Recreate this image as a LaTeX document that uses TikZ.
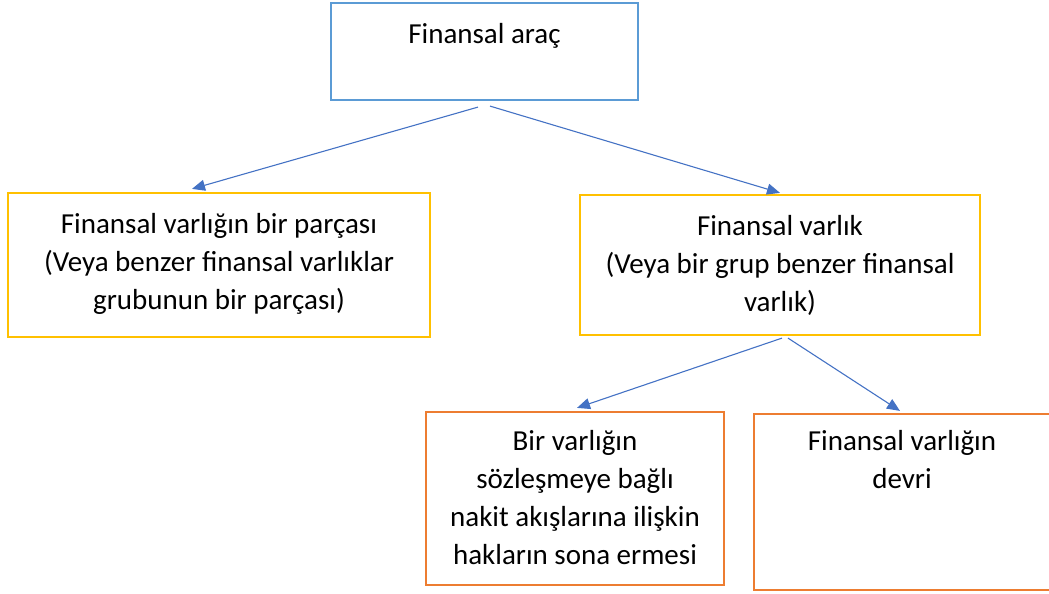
\documentclass[tikz,border=0pt]{standalone}
\usepackage{fontspec}
\setmainfont{Carlito}
\usetikzlibrary{arrows.meta,calc}
\definecolor{boxblue}{HTML}{5B9BD5}
\definecolor{boxyellow}{HTML}{FFC000}
\definecolor{boxorange}{HTML}{ED7D31}
\definecolor{linkblue}{HTML}{4472C4}
\begin{document}
\begin{tikzpicture}[x=1pt,y=-1pt,
  box/.style={draw,line width=2.2pt,inner sep=0pt,fill=none},
  txt/.style={anchor=north,align=center,inner sep=0pt,
    font=\fontsize{29}{38}\selectfont},
  link/.style={draw=linkblue,line width=1.1pt,
    -{Triangle[length=13pt,width=11pt]}}]
\useasboundingbox (0,0) rectangle (1049,594);

% frames
\node[box,draw=boxblue,minimum width=307pt,minimum height=97pt] (top) at (484.5,51.5) {};
\node[box,draw=boxyellow,minimum width=422pt,minimum height=144pt] (lv) at (219,265) {};
\node[box,draw=boxyellow,minimum width=400pt,minimum height=140pt] (rv) at (780,265) {};
\node[box,draw=boxorange,minimum width=298pt,minimum height=173pt] (o1) at (575,498.5) {};
\node[box,draw=boxorange,minimum width=304pt,minimum height=176pt] (o2) at (906,502) {};

% labels
\node[txt] (toptxt) at (484.5,23) {Finansal araç};
\node[txt] (lvtxt) at (219,213) {Finansal varlığın bir parçası\\(Veya benzer finansal varlıklar\\grubunun bir parçası)};
\node[txt] (rvtxt) at (780,215) {Finansal varlık\\(Veya bir grup benzer finansal\\varlık)};
\node[txt] (o1txt) at (575,430) {Bir varlığın\\sözleşmeye bağlı\\nakit akışlarına ilişkin\\hakların sona ermesi};
\node[txt] (o2txt) at (902,430) {Finansal varlığın\\devri};

% connectors
\draw[link] ($(top.south)+(-6.5,6)$) -- ($(lv.north)+(-27,-3)$);
\draw[link] ($(top.south)+(5.5,5)$) -- ($(rv.north)+(0,-1)$);
\draw[link] ($(rv.south)+(2,2)$) -- ($(o1.north)+(2,-3)$);
\draw[link] ($(rv.south)+(8,2)$) -- ($(o2.north)+(-6,-2)$);
\end{tikzpicture}
\end{document}
